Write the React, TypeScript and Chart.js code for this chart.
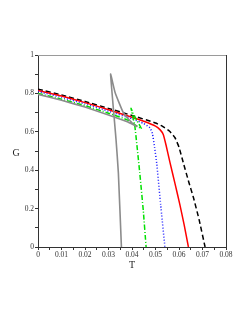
import React, { useEffect, useRef } from "react";
import { Chart, registerables } from "chart.js";

Chart.register(...registerables);

// T (x) and G (y) values for each curve
const blackT = [0, 0.01, 0.02, 0.03, 0.04, 0.05, 0.053, 0.056, 0.0583, 0.06, 0.0618, 0.064, 0.0662, 0.0686, 0.0711];
const blackG = [0.822, 0.792, 0.758, 0.722, 0.685, 0.646, 0.628, 0.603, 0.569, 0.52, 0.44, 0.345, 0.255, 0.14, 0];

const redT = [0, 0.01, 0.02, 0.03, 0.04, 0.045, 0.05, 0.052, 0.0533, 0.0545, 0.0562, 0.0583, 0.0603, 0.0622, 0.064];
const redG = [0.815, 0.786, 0.752, 0.715, 0.676, 0.655, 0.63, 0.61, 0.586, 0.53, 0.438, 0.33, 0.225, 0.115, 0];

const blueT = [0, 0.01, 0.02, 0.03, 0.04, 0.045, 0.0477, 0.0487, 0.0496, 0.0505, 0.0522, 0.054];
const blueG = [0.81, 0.779, 0.745, 0.707, 0.668, 0.643, 0.62, 0.59, 0.52, 0.438, 0.22, 0];

const greenT = [0, 0.01, 0.02, 0.03, 0.038, 0.044, 0.042, 0.0405, 0.0396, 0.0412, 0.0433, 0.0448, 0.046];
const greenG = [0.8, 0.77, 0.736, 0.697, 0.662, 0.616, 0.66, 0.695, 0.722, 0.63, 0.386, 0.19, 0];

const greyT = [0, 0.01, 0.02, 0.03, 0.038, 0.042, 0.0406, 0.0363, 0.0328, 0.0309, 0.0332, 0.0342, 0.0355];
const greyG = [0.795, 0.764, 0.729, 0.688, 0.652, 0.628, 0.639, 0.7, 0.805, 0.9, 0.56, 0.386, 0];

const xTickLabels = ["0", "0.01", "0.02", "0.03", "0.04", "0.05", "0.06", "0.07", "0.08"];
const yTickLabels = ["0", "0.2", "0.4", "0.6", "0.8", "1"];

const pts = (t: number[], g: number[]) => t.map((v, i) => ({ x: v, y: g[i] }));

const FONT = '"Liberation Serif", "Times New Roman", serif';

export default function App() {
  const ref = useRef<HTMLCanvasElement | null>(null);
  useEffect(() => {
    if (!ref.current) return;
    const framePlugin = {
      id: "frame",
      afterDraw(chart: any) {
        const { ctx, chartArea: a } = chart;
        ctx.save();
        ctx.lineWidth = 1;
        ctx.strokeStyle = "#9a9a9a";
        ctx.beginPath();
        ctx.moveTo(a.left, a.top + 0.5);
        ctx.lineTo(a.right, a.top + 0.5);
        ctx.stroke();
        ctx.strokeStyle = "#333333";
        ctx.beginPath();
        ctx.moveTo(a.right + 0.5, a.top);
        ctx.lineTo(a.right + 0.5, a.bottom);
        ctx.stroke();
        ctx.fillStyle = "#222222";
        ctx.font = "10px " + FONT;
        ctx.textAlign = "center";
        ctx.textBaseline = "middle";
        ctx.fillText("G", 16, 153);
        ctx.fillText("T", 132, 265);
        ctx.restore();
      },
    };
    const common = { pointRadius: 0, borderWidth: 1.5, fill: false, tension: 0.12 };
    const chart = new Chart(ref.current, {
      type: "line",
      data: {
        datasets: [
          { ...common, data: pts(greyT, greyG), borderColor: "#8c8c8c", borderWidth: 1.6 },
          { ...common, data: pts(greenT, greenG), borderColor: "#00e000", borderDash: [5, 2, 1, 2] },
          { ...common, data: pts(blueT, blueG), borderColor: "#1a1aff", borderDash: [1, 2] },
          { ...common, data: pts(redT, redG), borderColor: "#ff0000" },
          { ...common, data: pts(blackT, blackG), borderColor: "#000000", borderDash: [5, 3] },
        ],
      },
      plugins: [framePlugin],
      options: {
        responsive: false,
        animation: false,
        devicePixelRatio: 1,
        layout: { padding: { top: 55, right: 23, bottom: 51, left: 0 } },
        plugins: { legend: { display: false }, tooltip: { enabled: false } },
        scales: {
          x: {
            type: "linear",
            min: 0,
            max: 0.08,
            afterFit: (s: any) => { s.height = 25; },
            border: { display: true, color: "#333333", width: 1 },
            grid: { display: true, drawOnChartArea: false, drawTicks: true, tickLength: 3, color: "#333333" },
            ticks: {
              stepSize: 0.005,
              autoSkip: false,
              maxRotation: 0,
              padding: 1,
              color: "#333333",
              font: { family: FONT, size: 7.5 },
              callback: (v: any) => {
                const k = Number(v) * 100;
                if (Math.abs(k - Math.round(k)) > 1e-6) return "";
                return xTickLabels[Math.round(k)] ?? "";
              },
            },
          },
          y: {
            type: "linear",
            min: 0,
            max: 1,
            afterFit: (s: any) => { s.width = 38; },
            border: { display: true, color: "#333333", width: 1 },
            grid: { display: true, drawOnChartArea: false, drawTicks: true, tickLength: 3, color: "#333333" },
            ticks: {
              stepSize: 0.1,
              autoSkip: false,
              padding: 1,
              color: "#333333",
              font: { family: FONT, size: 7.5 },
              callback: (v: any) => {
                const k = Math.round(Number(v) * 10);
                if (k % 2 !== 0) return "";
                return yTickLabels[k / 2] ?? "";
              },
            },
          },
        },
      },
    });
    return () => chart.destroy();
  }, []);
  return (
    <div style={{ position: "absolute", left: 0, top: 0, width: 249, height: 323, background: "#fff" }}>
      <canvas ref={ref} width={249} height={323} style={{ width: 249, height: 323 }} />
    </div>
  );
}
